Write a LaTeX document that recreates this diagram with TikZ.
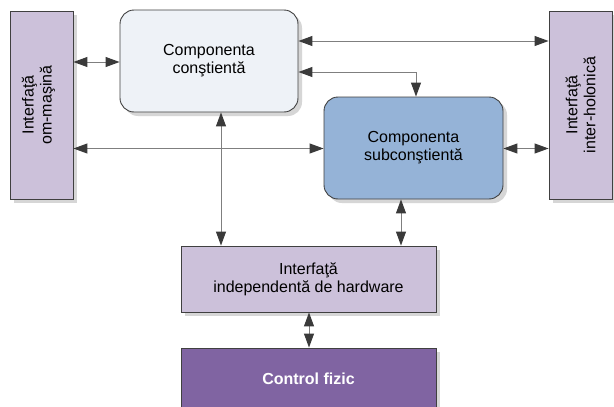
\documentclass[tikz,border=0pt]{standalone}
\usepackage{fontspec}
\setmainfont{Liberation Sans}
\usetikzlibrary{arrows.meta,shadows}
\definecolor{bordc}{HTML}{404040}
\definecolor{linec}{HTML}{7F7F7F}
\definecolor{tipc}{HTML}{3A3A3A}
\definecolor{lav}{HTML}{CCC1DA}
\definecolor{conf}{HTML}{EEF2F7}
\definecolor{subf}{HTML}{95B3D7}
\definecolor{cff}{HTML}{8064A2}
\definecolor{shad}{HTML}{D6D6D6}
\begin{document}
\begin{tikzpicture}[x=1pt,y=-1pt,
  txt/.style={align=center, font=\fontsize{16}{18}\selectfont},
  box/.style={txt, draw=bordc, line width=0.9pt, inner sep=0pt,
    drop shadow={shadow xshift=4pt, shadow yshift=-4pt, fill=shad, opacity=1}},
  rbox/.style={box, rounded corners=14pt},
  conn/.style={draw=linec, line width=1pt,
    arrows={Triangle[length=14pt,width=10pt,color=tipc]-Triangle[length=14pt,width=10pt,color=tipc]}}
]
\clip (0,0) rectangle (614,407);
\fill[white] (0,0) rectangle (614,407);

\coordinate (h41) at (0,41);
\coordinate (h62) at (0,62);
\coordinate (h72) at (0,72);
\coordinate (h148) at (0,148.5);
\coordinate (v221) at (221,0);
\coordinate (v401) at (401,0);
\coordinate (v416) at (416,0);
\coordinate (v309) at (309,0);

\node[box, fill=lav, minimum width=63pt, minimum height=188pt,
  label={[txt, rotate=90, yshift=3pt]center:Interfaţă\\om-maşină}] (om) at (41.5,105) {};
\node[box, fill=lav, minimum width=63pt, minimum height=188pt,
  label={[txt, rotate=90]center:Interfaţă\\inter-holonică}] (ih) at (580.5,105) {};
\node[rbox, fill=conf, minimum width=178pt, minimum height=102pt] (con) at (209,61) {Componenta\\conştientă};
\node[rbox, fill=subf, minimum width=179pt, minimum height=102pt] (sub) at (413.5,148) {Componenta\\subconştientă};
\node[box, fill=lav, minimum width=255pt, minimum height=66pt] (hw) at (308.5,279) {Interfaţă\\independentă de hardware};
\node[box, fill=cff, text=white, font=\fontsize{16}{18}\selectfont\bfseries, minimum width=255pt, minimum height=62pt] (cf) at (308.5,379) {Control fizic};

\draw[conn] (om.east |- h62) -- (con.west |- h62);
\draw[conn] (om.east |- h148) -- (sub.west |- h148);
\draw[conn] (con.east |- h41) -- (ih.west |- h41);
\draw[conn] (con.east |- h72) -| (v416 |- sub.north);
\draw[conn] (sub.east |- h148) -- (ih.west |- h148);
\draw[conn] (con.south -| v221) -- (hw.north -| v221);
\draw[conn] (sub.south -| v401) -- (hw.north -| v401);
\draw[conn] (hw.south -| v309) -- (cf.north -| v309);
\end{tikzpicture}
\end{document}
